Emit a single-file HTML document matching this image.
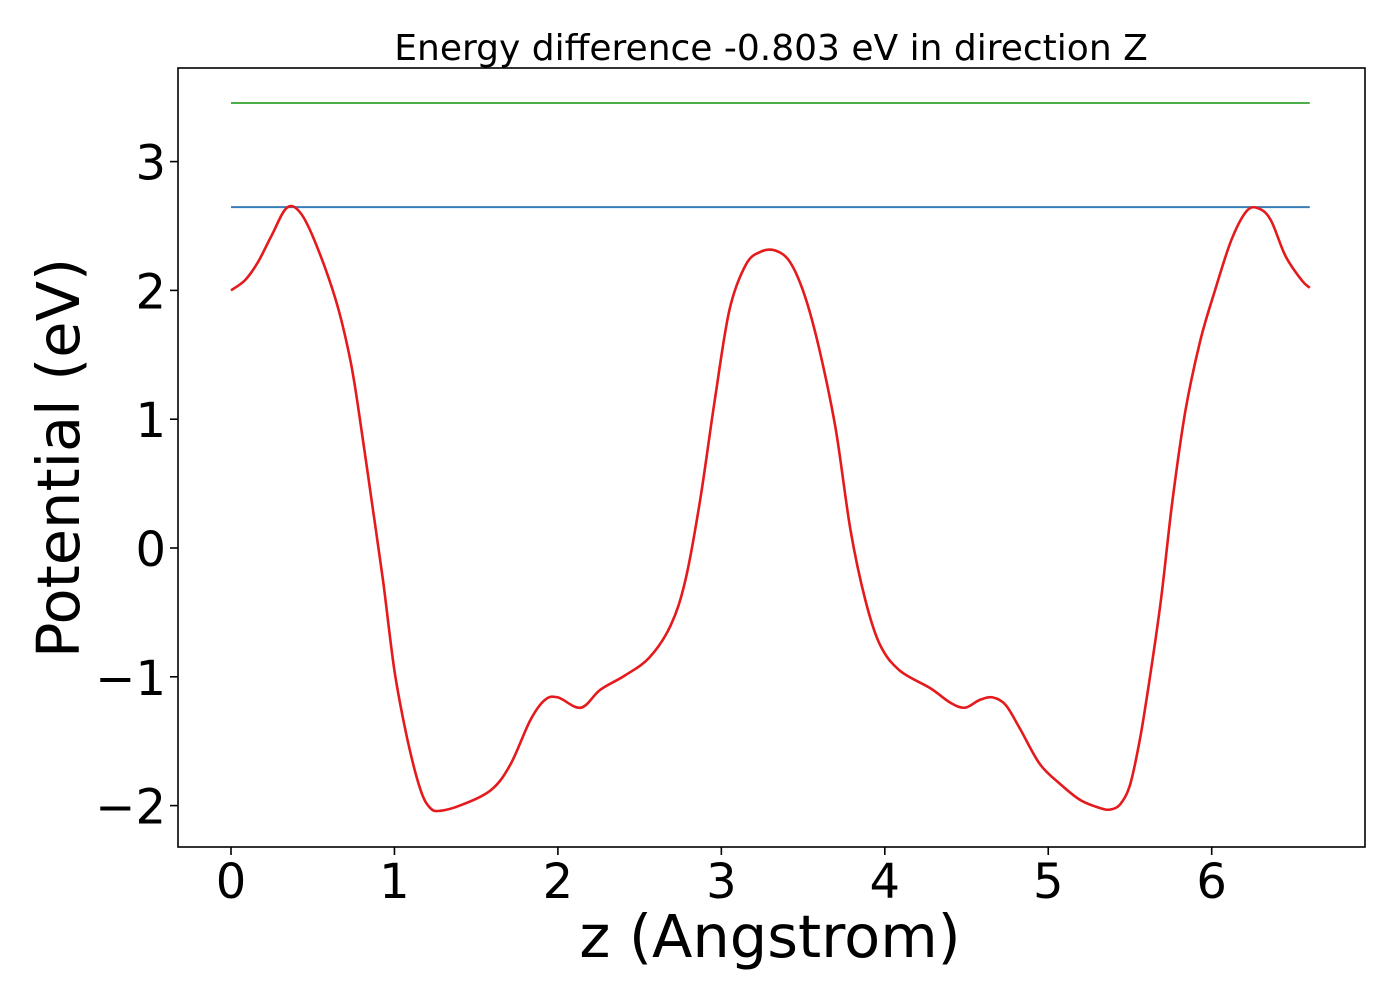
<!DOCTYPE html>
<html><head><meta charset="utf-8"><style>
html,body{margin:0;padding:0;background:#fff;}
svg{display:block;font-family:"DejaVu Sans","Liberation Sans",sans-serif;}
</style></head><body>
<svg id="chart" width="1400" height="1000" viewBox="0 0 1400 1000" xmlns="http://www.w3.org/2000/svg">
<rect width="1400" height="1000" fill="#fff"/>
<text x="771" y="60" font-size="36" text-anchor="middle">Energy difference -0.803 eV in direction Z</text>
<g id="plot"></g>
<rect x="178" y="68" width="1187" height="779" fill="none" stroke="#000" stroke-width="1.6"/>
<text x="770" y="957" font-size="59" text-anchor="middle">z (Angstrom)</text>
<text transform="translate(79,458) rotate(-90)" font-size="59" text-anchor="middle">Potential (eV)</text>
</svg>
<script>
const xTicks=[0,1,2,3,4,5,6];
const yTicks=[-2,-1,0,1,2,3];
const vacuumLevel=3.455;
const fermiLevel=2.647;
const zValues=[0,0.086,0.165,0.25,0.34,0.42,0.51,0.64,0.73,0.79,0.86,0.93,1.0,1.08,1.16,1.22,1.28,1.40,1.59,1.71,1.83,1.92,2.0,2.14,2.26,2.41,2.56,2.69,2.78,2.87,2.96,3.05,3.15,3.24,3.33,3.42,3.51,3.60,3.70,3.79,3.88,3.97,4.09,4.28,4.40,4.49,4.58,4.66,4.74,4.83,4.95,5.08,5.20,5.32,5.38,5.44,5.50,5.56,5.62,5.69,5.76,5.84,5.93,6.02,6.12,6.21,6.28,6.36,6.45,6.55,6.60];
const potentialValues=[2.0,2.08,2.22,2.43,2.64,2.61,2.39,1.93,1.46,0.99,0.37,-0.25,-0.95,-1.49,-1.88,-2.02,-2.04,-2.0,-1.88,-1.68,-1.34,-1.18,-1.16,-1.24,-1.10,-0.99,-0.85,-0.60,-0.25,0.37,1.15,1.85,2.20,2.30,2.31,2.22,1.96,1.54,0.92,0.14,-0.40,-0.75,-0.95,-1.09,-1.20,-1.24,-1.18,-1.16,-1.22,-1.41,-1.68,-1.84,-1.96,-2.02,-2.03,-1.99,-1.84,-1.49,-1.02,-0.40,0.37,1.07,1.61,2.0,2.39,2.61,2.64,2.55,2.27,2.08,2.02];
const X=v=>231+v*163.45;
const Y=v=>548-v*128.8;
const NS="http://www.w3.org/2000/svg";
const g=document.getElementById('plot');
function mk(tag,attrs){const e=document.createElementNS(NS,tag);for(const k in attrs)e.setAttribute(k,attrs[k]);g.appendChild(e);return e;}
xTicks.forEach(t=>{
  const l=mk('line',{x1:X(t),x2:X(t),y1:847,y2:855,stroke:'#000','stroke-width':1.6});
  
  
  const tx=mk('text',{x:X(t),y:898,'font-size':48,'text-anchor':'middle'});
  tx.textContent=String(t);
  
  
});
yTicks.forEach(t=>{
  const l=mk('line',{x1:170,x2:178,y1:Y(t),y2:Y(t),stroke:'#000','stroke-width':1.6});
  
  
  const tx=mk('text',{x:166,y:Y(t)+18,'font-size':48,'text-anchor':'end'});
  tx.textContent=t<0?'\u2212'+Math.abs(t):String(t);
  
  
});
const zMin=zValues[0],zMax=zValues[zValues.length-1];
const vac=mk('line',{x1:X(zMin),x2:X(zMax),y1:Y(vacuumLevel),y2:Y(vacuumLevel),stroke:'#4daf4a','stroke-width':2});


const fer=mk('line',{x1:X(zMin),x2:X(zMax),y1:Y(fermiLevel),y2:Y(fermiLevel),stroke:'#377eb8','stroke-width':2});


const P=zValues.map((z,i)=>[X(z),Y(potentialValues[i])]);
let d='M'+P[0][0].toFixed(1)+','+P[0][1].toFixed(1);
for(let i=0;i<P.length-1;i++){
  const p0=P[Math.max(0,i-1)],p1=P[i],p2=P[i+1],p3=P[Math.min(P.length-1,i+2)];
  const c1=[p1[0]+(p2[0]-p0[0])/6,p1[1]+(p2[1]-p0[1])/6];
  const c2=[p2[0]-(p3[0]-p1[0])/6,p2[1]-(p3[1]-p1[1])/6];
  d+=' C'+c1[0].toFixed(1)+','+c1[1].toFixed(1)+' '+c2[0].toFixed(1)+','+c2[1].toFixed(1)+' '+p2[0].toFixed(1)+','+p2[1].toFixed(1);
}
const pl=mk('path',{d:d,fill:'none',stroke:'#e41a1c','stroke-width':2.6,'stroke-linejoin':'round'});


</script>
</body></html>
